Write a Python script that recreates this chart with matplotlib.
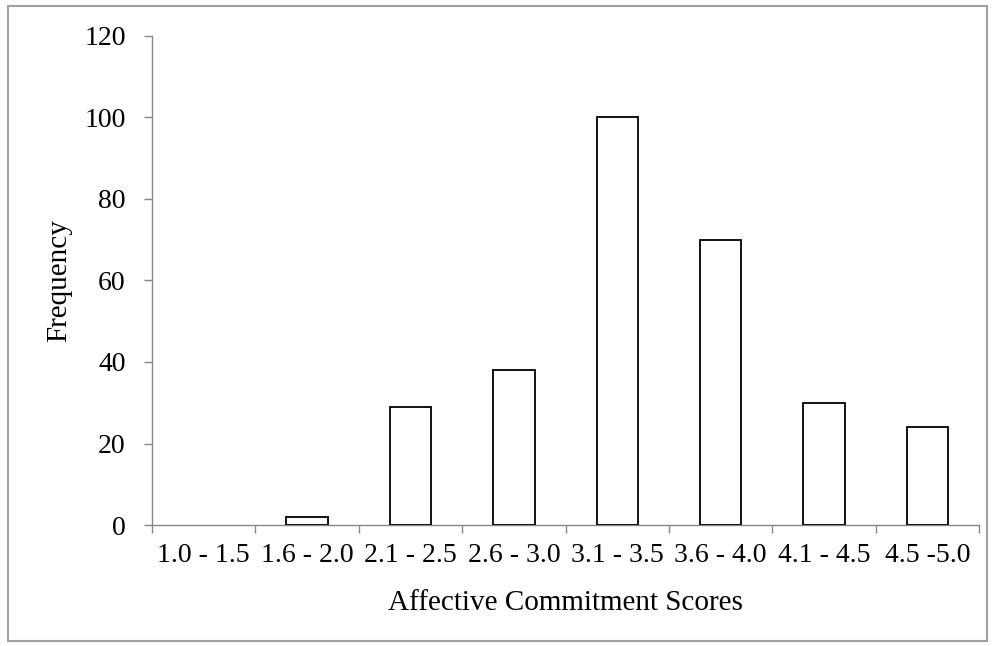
"""
Histogram of affective commitment scores.
"""

import matplotlib.pyplot as plt
from matplotlib.patches import Rectangle
from matplotlib.ticker import FixedLocator, NullFormatter

# --- Data ---
CATEGORIES = ["1.0 - 1.5", "1.6 - 2.0", "2.1 - 2.5", "2.6 - 3.0",
              "3.1 - 3.5", "3.6 - 4.0", "4.1 - 4.5", "4.5 -5.0"]
FREQUENCY = [0, 2, 29, 38, 100, 70, 30, 24]
Y_TICKS = [0, 20, 40, 60, 80, 100, 120]

plt.rcParams['font.family'] = ['Liberation Serif', 'DejaVu Serif']
AXIS_GREY = "#868686"

fig = plt.figure(figsize=(9.95, 6.46), dpi=100)
ax = fig.add_axes([0.1528, 0.1873, 0.8312, 0.757])

positions = list(range(len(CATEGORIES)))
# empty bins get no outline, like the original
edges = ["black" if f > 0 else "none" for f in FREQUENCY]
ax.bar(positions, FREQUENCY, width=0.4, color="white",
       edgecolor=edges, linewidth=1.3, zorder=3)

ax.set_xlim(-0.5, len(CATEGORIES) - 0.5)
ax.set_ylim(0, 120)
ax.set_yticks(Y_TICKS)

# labels under category centres, tick marks on category boundaries
ax.set_xticks(positions)
ax.set_xticklabels(CATEGORIES, fontsize=20)
ax.xaxis.set_minor_locator(FixedLocator([p - 0.5 for p in range(len(CATEGORIES) + 1)]))
ax.xaxis.set_minor_formatter(NullFormatter())
ax.tick_params(axis="x", which="major", length=0, pad=13)
ax.tick_params(axis="x", which="minor", length=6, width=1, color=AXIS_GREY)
ax.tick_params(axis="y", length=6, width=1, color=AXIS_GREY, labelsize=20, pad=13)

for side in ("top", "right"):
    ax.spines[side].set_visible(False)
for side in ("left", "bottom"):
    ax.spines[side].set_color(AXIS_GREY)
    ax.spines[side].set_linewidth(1)

ax.set_xlabel("Affective Commitment Scores", fontsize=21)
ax.set_ylabel("Frequency", fontsize=21)
ax.xaxis.set_label_coords(0.5, -0.133)
ax.yaxis.set_label_coords(-0.097, 0.5)

# outer frame around the whole chart
fig.patches.append(Rectangle((0.008, 0.008), 0.984, 0.982, transform=fig.transFigure,
                             fill=False, edgecolor="#a0a0a0", linewidth=1.5))

fig.savefig("out.png", dpi=100)
